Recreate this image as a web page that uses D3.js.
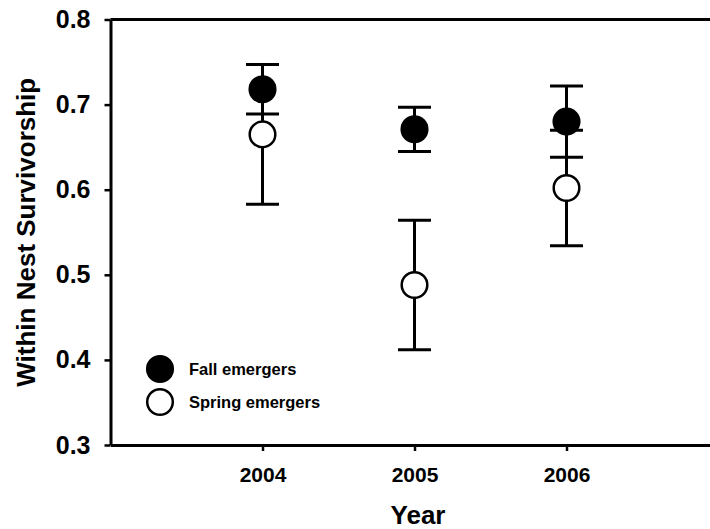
<!DOCTYPE html>
<html>
<head>
<meta charset="utf-8">
<script src="https://cdn.jsdelivr.net/npm/d3@7"></script>
<style>
  body { margin: 0; background: #fff; }
  svg { display: block; font-family: "Liberation Sans", Arial, sans-serif; font-weight: bold; }
</style>
</head>
<body>
<div id="chart"></div>
<script>
// -- data ---------------------------------------------------------------
const years       = [2004, 2005, 2006];
const fallMean    = [0.718, 0.671, 0.680];
const fallErr     = [0.029, 0.026, 0.042];
const springMean  = [0.665, 0.488, 0.602];
const springErr   = [0.082, 0.076, 0.068];
const yTicks      = [0.3, 0.4, 0.5, 0.6, 0.7, 0.8];
const seriesNames = ['Fall emergers', 'Spring emergers'];

const series = [
  { name: seriesNames[0], fill: '#000', mean: fallMean,   err: fallErr },
  { name: seriesNames[1], fill: '#fff', mean: springMean, err: springErr }
];

// -- layout -------------------------------------------------------------
const W = 710, H = 529;
const svg = d3.select('#chart').append('svg')
  .attr('width', W).attr('height', H);

const x = d3.scaleLinear().domain([2003, 2007]).range([110.5, 718.5]);
const y = d3.scaleLinear().domain([0.3, 0.8]).range([445, 19.5]);

const LW = 3;

// top frame line
svg.append('line')
  .attr('x1', x(2003)).attr('x2', x(2007))
  .attr('y1', y(0.8)).attr('y2', y(0.8))
  .attr('stroke', '#000').attr('stroke-width', LW);

// y axis
const yAxis = svg.append('g')
  .attr('transform', `translate(${x(2003)},0)`)
  .call(d3.axisLeft(y).tickValues(yTicks).tickFormat(d3.format('.1f'))
    .tickSize(6).tickPadding(14).tickSizeOuter(0));
yAxis.select('.domain').attr('stroke-width', LW);
yAxis.selectAll('.tick line').attr('stroke-width', 2.5);
yAxis.selectAll('.tick text')
  .attr('font-size', 25).attr('font-weight', 'bold').attr('fill', '#000')
  .attr('font-family', '"Liberation Sans", Arial, sans-serif');

// x axis
const xAxis = svg.append('g')
  .attr('transform', `translate(0,${y(0.3)})`)
  .call(d3.axisBottom(x).tickValues(years).tickFormat(d3.format('d'))
    .tickSize(6).tickPadding(16).tickSizeOuter(0));
xAxis.select('.domain').attr('stroke-width', LW);
xAxis.selectAll('.tick line').attr('stroke-width', 2.5);
xAxis.selectAll('.tick text')
  .attr('font-size', 21).attr('font-weight', 'bold').attr('fill', '#000')
  .attr('font-family', '"Liberation Sans", Arial, sans-serif');

// axis titles
svg.append('text')
  .attr('x', 418).attr('y', 524)
  .attr('text-anchor', 'middle')
  .attr('font-size', 26)
  .text('Year');

svg.append('text')
  .attr('transform', `translate(35,${(y(0.3) + y(0.8)) / 2}) rotate(-90)`)
  .attr('text-anchor', 'middle')
  .attr('font-size', 26)
  .text('Within Nest Survivorship');

// -- error bars (drawn under the markers) --------------------------------
const CAP = 16.5;
const bars = svg.append('g').attr('stroke', '#000').attr('stroke-width', LW);
series.forEach(s => {
  years.forEach((yr, i) => {
    const cx = x(yr), lo = y(s.mean[i] - s.err[i]), hi = y(s.mean[i] + s.err[i]);
    bars.append('line').attr('x1', cx).attr('x2', cx).attr('y1', lo).attr('y2', hi);
    bars.append('line').attr('x1', cx - CAP).attr('x2', cx + CAP).attr('y1', lo).attr('y2', lo);
    bars.append('line').attr('x1', cx - CAP).attr('x2', cx + CAP).attr('y1', hi).attr('y2', hi);
  });
});

// -- markers ------------------------------------------------------------
const R = 12.8;
series.forEach(s => {
  svg.append('g').selectAll('circle')
    .data(years)
    .join('circle')
    .attr('cx', d => x(d))
    .attr('cy', (d, i) => y(s.mean[i]))
    .attr('r', R)
    .attr('fill', s.fill)
    .attr('stroke', '#000')
    .attr('stroke-width', 2.5);
});

// -- legend -------------------------------------------------------------
const legend = svg.append('g').attr('transform', 'translate(160,369)');
series.forEach((s, i) => {
  const g = legend.append('g').attr('transform', `translate(0,${i * 33})`);
  g.append('circle').attr('r', R).attr('fill', s.fill)
    .attr('stroke', '#000').attr('stroke-width', 2.5);
  g.append('text').attr('x', 29).attr('y', 6)
    .attr('font-size', 16.5)
    .text(s.name);
});
</script>
</body>
</html>
